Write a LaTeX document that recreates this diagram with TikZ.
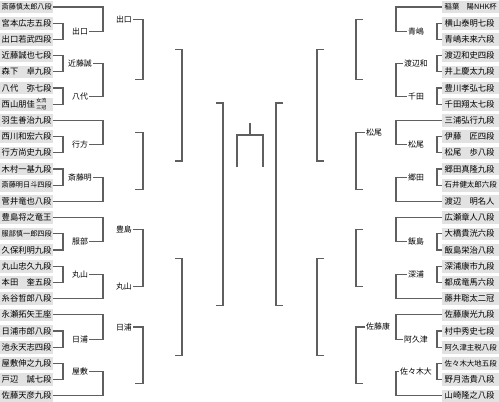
\documentclass[tikz,border=0pt]{standalone}
\usepackage{graphicx}
\usepackage{fontspec}
\setmainfont{Noto Sans CJK JP}
\definecolor{ln}{RGB}{95,95,95}
\definecolor{bx}{RGB}{226,226,226}
\newcommand\fitname[2]{\sbox0{#2}\ifdim\wd0>#1\resizebox{#1}{!}{#2}\else#2\fi}
\newcommand\brk[3]{\draw[br] (#1) -- (#1 -| #3) |- (#2);}
\tikzset{
  nameL/.style={fill=bx, anchor=west, minimum height=12.6pt, text width=50pt, inner xsep=1.5pt, inner ysep=0pt, align=left, font=\fontsize{8.3}{10}\selectfont},
  nameR/.style={fill=bx, anchor=west, minimum height=12.6pt, text width=52pt, inner xsep=2.5pt, inner ysep=0pt, align=left, font=\fontsize{8.3}{10}\selectfont},
  lab/.style={inner sep=1pt, font=\fontsize{7.9}{9}\selectfont},
  br/.style={draw=ln, line width=1.1pt},
}
\begin{document}
\begin{tikzpicture}[x=1pt,y=-1pt]
\useasboundingbox (0,0) rectangle (499,402);
% columns
\coordinate (cL1) at (63,0);  \coordinate (cL2) at (103,0); \coordinate (cL3) at (143,0);
\coordinate (cL4) at (182,0); \coordinate (cL5) at (223,0);
\coordinate (cR1) at (437,0); \coordinate (cR2) at (396,0); \coordinate (cR3) at (356,0);
\coordinate (cR4) at (317,0); \coordinate (cR5) at (276,0);
% left names
\node[nameL] (L1)  at (0,7.0)   {\fitname{50pt}{斎藤慎太郎八段}};
\node[nameL] (L2)  at (0,23.2)  {\fitname{50pt}{宮本広志五段}};
\node[nameL] (L3)  at (0,39.4)  {\fitname{50pt}{出口若武四段}};
\node[nameL] (L4)  at (0,55.6)  {\fitname{50pt}{近藤誠也七段}};
\node[nameL] (L5)  at (0,71.8)  {\fitname{50pt}{森下　卓九段}};
\node[nameL] (L6)  at (0,88.0)  {\fitname{50pt}{八代　弥七段}};
\node[nameL] (L7)  at (0,104.2) {西山朋佳\,\raisebox{-1.8pt}{\fontsize{5}{5.2}\selectfont\shortstack[l]{女流\\三冠}}};
\node[nameL] (L8)  at (0,120.4) {\fitname{50pt}{羽生善治九段}};
\node[nameL] (L9)  at (0,136.6) {\fitname{50pt}{西川和宏六段}};
\node[nameL] (L10) at (0,152.8) {\fitname{50pt}{行方尚史九段}};
\node[nameL] (L11) at (0,169.0) {\fitname{50pt}{木村一基九段}};
\node[nameL] (L12) at (0,185.2) {\fitname{50pt}{斎藤明日斗四段}};
\node[nameL] (L13) at (0,201.4) {\fitname{50pt}{菅井竜也八段}};
\node[nameL] (L14) at (0,217.6) {\fitname{50pt}{豊島将之竜王}};
\node[nameL] (L15) at (0,233.8) {\fitname{50pt}{服部慎一郎四段}};
\node[nameL] (L16) at (0,250.0) {\fitname{50pt}{久保利明九段}};
\node[nameL] (L17) at (0,266.2) {\fitname{50pt}{丸山忠久九段}};
\node[nameL] (L18) at (0,282.4) {\fitname{50pt}{本田　奎五段}};
\node[nameL] (L19) at (0,298.6) {\fitname{50pt}{糸谷哲郎八段}};
\node[nameL] (L20) at (0,314.8) {\fitname{50pt}{永瀬拓矢王座}};
\node[nameL] (L21) at (0,331.0) {\fitname{50pt}{日浦市郎八段}};
\node[nameL] (L22) at (0,347.2) {\fitname{50pt}{池永天志四段}};
\node[nameL] (L23) at (0,363.4) {\fitname{50pt}{屋敷伸之九段}};
\node[nameL] (L24) at (0,379.6) {\fitname{50pt}{戸辺　誠七段}};
\node[nameL] (L25) at (0,395.8) {\fitname{50pt}{佐藤天彦九段}};
% right names
\node[nameR] (R1)  at (442,7.0)   {\fitname{52pt}{稲葉　陽NHK杯}};
\node[nameR] (R2)  at (442,23.2)  {\fitname{52pt}{横山泰明七段}};
\node[nameR] (R3)  at (442,39.4)  {\fitname{52pt}{青嶋未来六段}};
\node[nameR] (R4)  at (442,55.6)  {\fitname{52pt}{渡辺和史四段}};
\node[nameR] (R5)  at (442,71.8)  {\fitname{52pt}{井上慶太九段}};
\node[nameR] (R6)  at (442,88.0)  {\fitname{52pt}{豊川孝弘七段}};
\node[nameR] (R7)  at (442,104.2) {\fitname{52pt}{千田翔太七段}};
\node[nameR] (R8)  at (442,120.4) {\fitname{52pt}{三浦弘行九段}};
\node[nameR] (R9)  at (442,136.6) {\fitname{52pt}{伊藤　匠四段}};
\node[nameR] (R10) at (442,152.8) {\fitname{52pt}{松尾　歩八段}};
\node[nameR] (R11) at (442,169.0) {\fitname{52pt}{郷田真隆九段}};
\node[nameR] (R12) at (442,185.2) {\fitname{52pt}{石井健太郎六段}};
\node[nameR] (R13) at (442,201.4) {\fitname{52pt}{渡辺　明名人}};
\node[nameR] (R14) at (442,217.6) {\fitname{52pt}{広瀬章人八段}};
\node[nameR] (R15) at (442,233.8) {\fitname{52pt}{大橋貴洸六段}};
\node[nameR] (R16) at (442,250.0) {\fitname{52pt}{飯島栄治八段}};
\node[nameR] (R17) at (442,266.2) {\fitname{52pt}{深浦康市九段}};
\node[nameR] (R18) at (442,282.4) {\fitname{52pt}{都成竜馬六段}};
\node[nameR] (R19) at (442,298.6) {\fitname{52pt}{藤井聡太二冠}};
\node[nameR] (R20) at (442,314.8) {\fitname{52pt}{佐藤康光九段}};
\node[nameR] (R21) at (442,331.0) {\fitname{52pt}{村中秀史七段}};
\node[nameR] (R22) at (442,347.2) {\fitname{52pt}{阿久津主税八段}};
\node[nameR] (R23) at (442,363.4) {\fitname{52pt}{佐々木大地五段}};
\node[nameR] (R24) at (442,379.6) {\fitname{52pt}{野月浩貴八段}};
\node[nameR] (R25) at (442,395.8) {\fitname{52pt}{山崎隆之八段}};
% left round-1 winners
\node[lab] (la1) at (80,31.3)  {出口};
\node[lab] (la2) at (80,63.7)  {近藤誠};
\node[lab] (la3) at (80,96.1)  {八代};
\node[lab] (la4) at (80,144.7) {行方};
\node[lab] (la5) at (80,177.1) {斎藤明};
\node[lab] (la6) at (80,241.9) {服部};
\node[lab] (la7) at (80,274.3) {丸山};
\node[lab] (la8) at (80,339.1) {日浦};
\node[lab] (la9) at (80,371.5) {屋敷};
% left round-2 winners
\node[lab,anchor=east] (lb1) at (133,19.2)  {出口};
\node[lab,anchor=east] (lb2) at (133,229.8) {豊島};
\node[lab,anchor=east] (lb3) at (133,286.5) {丸山};
\node[lab,anchor=east] (lb4) at (133,327.0) {日浦};
% right round-1 winners
\node[lab] (ra1) at (416,31.3)  {青嶋};
\node[lab] (ra2) at (416,63.7)  {渡辺和};
\node[lab] (ra3) at (416,96.1)  {千田};
\node[lab] (ra4) at (416,144.7) {松尾};
\node[lab] (ra5) at (416,177.1) {郷田};
\node[lab] (ra6) at (416,241.9) {飯島};
\node[lab] (ra7) at (416,274.3) {深浦};
\node[lab] (ra8) at (416,339.1) {阿久津};
\node[lab] (ra9) at (416,371.5) {佐々木大};
% right round-2 winners
\node[lab,anchor=west] (rb1) at (365,132.6) {松尾};
\node[lab,anchor=west] (rb2) at (365,327.0) {佐藤康};
% stub start points
\coordinate (sL3b) at (135,79.9);  \coordinate (sL3c) at (135,132.6);
\coordinate (sL3d) at (135,189.3); \coordinate (sL3h) at (135,383.7);
\coordinate (sL4a) at (175,49.5);  \coordinate (sL4b) at (175,161.0);
\coordinate (sL4c) at (175,258.1); \coordinate (sL4d) at (175,355.3);
\coordinate (sL5a) at (216,103.0); \coordinate (sL5b) at (216,305.5);
\coordinate (sR3a) at (363,19.2);  \coordinate (sR3b) at (363,79.9);
\coordinate (sR3d) at (363,189.3); \coordinate (sR3e) at (363,229.8);
\coordinate (sR3f) at (363,286.5); \coordinate (sR3h) at (363,383.7);
\coordinate (sR4a) at (324,49.5);  \coordinate (sR4b) at (324,161.0);
\coordinate (sR4c) at (324,258.1); \coordinate (sR4d) at (324,355.3);
\coordinate (sR5a) at (283,103.0); \coordinate (sR5b) at (283,305.5);
% left round 1
\brk{L2.east}{L3.east}{cL1}
\brk{L4.east}{L5.east}{cL1}
\brk{L6.east}{L7.east}{cL1}
\brk{L9.east}{L10.east}{cL1}
\brk{L11.east}{L12.east}{cL1}
\brk{L15.east}{L16.east}{cL1}
\brk{L17.east}{L18.east}{cL1}
\brk{L21.east}{L22.east}{cL1}
\brk{L23.east}{L24.east}{cL1}
% left round 2
\brk{L1.east}{la1.east}{cL2}
\brk{la2.east}{la3.east}{cL2}
\brk{L8.east}{la4.east}{cL2}
\brk{la5.east}{L13.east}{cL2}
\brk{L14.east}{la6.east}{cL2}
\brk{la7.east}{L19.east}{cL2}
\brk{L20.east}{la8.east}{cL2}
\brk{la9.east}{L25.east}{cL2}
% left round 3-5
\brk{lb1.east}{sL3b}{cL3}
\brk{sL3c}{sL3d}{cL3}
\brk{lb2.east}{lb3.east}{cL3}
\brk{lb4.east}{sL3h}{cL3}
\brk{sL4a}{sL4b}{cL4}
\brk{sL4c}{sL4d}{cL4}
\brk{sL5a}{sL5b}{cL5}
% right round 1
\brk{R2.west}{R3.west}{cR1}
\brk{R4.west}{R5.west}{cR1}
\brk{R6.west}{R7.west}{cR1}
\brk{R9.west}{R10.west}{cR1}
\brk{R11.west}{R12.west}{cR1}
\brk{R15.west}{R16.west}{cR1}
\brk{R17.west}{R18.west}{cR1}
\brk{R21.west}{R22.west}{cR1}
\brk{R23.west}{R24.west}{cR1}
% right round 2
\brk{R1.west}{ra1.west}{cR2}
\brk{ra2.west}{ra3.west}{cR2}
\brk{R8.west}{ra4.west}{cR2}
\brk{ra5.west}{R13.west}{cR2}
\brk{R14.west}{ra6.west}{cR2}
\brk{ra7.west}{R19.west}{cR2}
\brk{R20.west}{ra8.west}{cR2}
\brk{ra9.west}{R25.west}{cR2}
% right round 3-5
\brk{sR3a}{sR3b}{cR3}
\brk{rb1.west}{sR3d}{cR3}
\brk{sR3e}{sR3f}{cR3}
\brk{rb2.west}{sR3h}{cR3}
\brk{sR4a}{sR4b}{cR4}
\brk{sR4c}{sR4d}{cR4}
\brk{sR5a}{sR5b}{cR5}
% final
\coordinate (tL) at (237,167); \coordinate (tA) at (237,135);
\coordinate (tB) at (263,135); \coordinate (tR) at (263,167);
\coordinate (tM) at (250,135); \coordinate (tT) at (250,123);
\draw[br] (tL) -- (tA) -- (tB) -- (tR);
\draw[br] (tM) -- (tT);
\end{tikzpicture}
\end{document}
